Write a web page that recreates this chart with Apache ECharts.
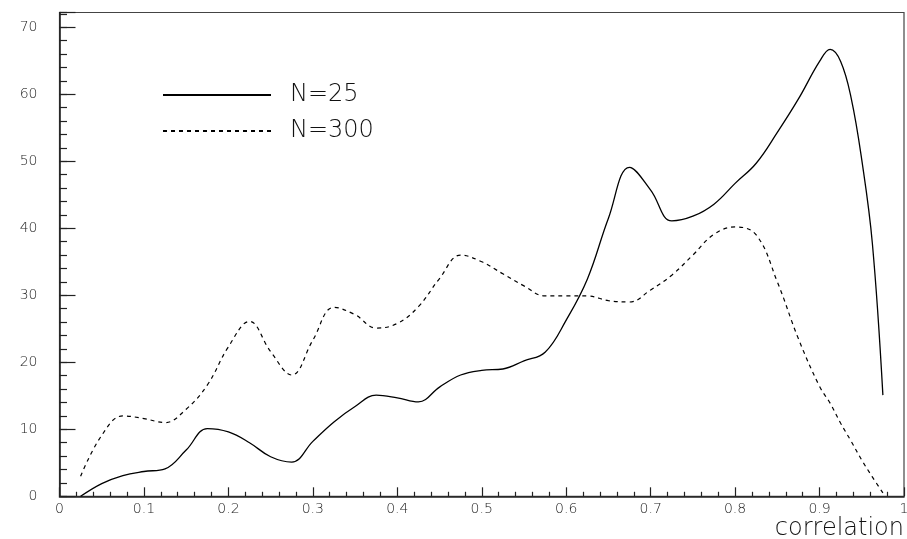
<!DOCTYPE html>
<html>
<head>
<meta charset="utf-8">
<script src="https://cdn.jsdelivr.net/npm/echarts@6/dist/echarts.min.js"></script>
<style>
html,body{margin:0;padding:0;background:#fff;}
#chart{width:907px;height:539px;}
</style>
</head>
<body>
<div id="chart"></div>
<script>
var correlation = [0.025, 0.05, 0.075, 0.10, 0.125, 0.15, 0.175, 0.20, 0.225, 0.25,
                   0.275, 0.30, 0.325, 0.35, 0.375, 0.40, 0.425, 0.45, 0.475, 0.50,
                   0.525, 0.55, 0.575, 0.60, 0.625, 0.65, 0.675, 0.70, 0.725, 0.75,
                   0.775, 0.80, 0.825, 0.85, 0.875, 0.90, 0.9125, 0.925, 0.9375, 0.95,
                   0.9625, 0.975];
// N=25 curve values
var n25 = [0.0, 1.9, 3.1, 3.7, 4.1, 6.9, 10.1, 9.6, 8.0, 5.9,
           5.1, 8.2, 11.1, 13.4, 15.1, 14.7, 14.1, 16.3, 18.1, 18.8,
           19.0, 20.2, 21.5, 26.3, 32.4, 41.5, 49.1, 45.7, 41.1, 41.8,
           43.6, 46.7, 49.7, 54.3, 59.3, 64.9, 66.7, 64.9, 59.4, 50.2,
           37.8, 15.1];
// N=300 curve values
var n300 = [3.0, 9.1, 12.0, 11.6, 11.0, 13.0, 16.6, 22.3, 26.1, 21.6,
            18.1, 23.3, 28.2, 27.1, 25.1, 25.8, 28.3, 32.5, 36.0, 35.0,
            33.2, 31.4, 29.9, 29.9, 29.9, 29.2, 29.0, 30.8, 33.0, 36.0,
            39.1, 40.2, 39.0, 32.0, 23.5, 16.4, 13.9, 10.9, 8.2, 5.4,
            2.9, 0.5];
var seriesNames = ['N=25', 'N=300'];
var xAxisTitle = 'correlation';

function pairs(xs, ys) { return xs.map(function (x, i) { return [x, ys[i]]; }); }

var FONT = 'DejaVu Sans';
var chart = echarts.init(document.getElementById('chart'), null, {renderer: 'canvas'});
chart.setOption({
  animation: false,
  backgroundColor: '#ffffff',
  title: {
    text: xAxisTitle, right: 3, top: 517, padding: 0,
    textStyle: {fontFamily: FONT, fontSize: 24, fontWeight: 200, color: '#111'}
  },
  grid: {
    left: 59.5, right: 3, top: 12.5, bottom: 42.7,
    containLabel: false, outerBoundsMode: 'none',
    show: true, borderColor: '#444', borderWidth: 1.2, backgroundColor: 'transparent'
  },
  legend: {
    orient: 'vertical',
    left: 162, top: 83, padding: 0,
    itemWidth: 108, itemHeight: 14, itemGap: 12,
    itemStyle: {opacity: 0},
    textStyle: {fontFamily: FONT, fontSize: 24, fontWeight: 200, color: '#111', padding: [0, 0, 0, 14]},
    data: seriesNames
  },
  xAxis: {
    type: 'value', min: 0, max: 1, interval: 0.1,
    axisLine: {show: true, lineStyle: {color: '#222', width: 1.6}},
    axisTick: {show: true, inside: true, length: 9, lineStyle: {color: '#222', width: 1.2}},
    minorTick: {show: true, splitNumber: 5, length: 4.5, lineStyle: {color: '#222', width: 1.2}},
    axisLabel: {fontFamily: FONT, fontSize: 14, fontWeight: 200, color: '#222', margin: 6,
      formatter: function (v) { return String(+v.toFixed(1)); }},
    splitLine: {show: false}
  },
  yAxis: [{
    type: 'value', min: 0, max: 72.2, interval: 2,
    axisLine: {show: true, lineStyle: {color: '#222', width: 1.6}},
    axisTick: {show: true, inside: true, length: 7.5, lineStyle: {color: '#222', width: 1.2}},
    axisLabel: {fontFamily: FONT, fontSize: 14, fontWeight: 200, color: '#222', margin: 22,
      formatter: function (v) { return (Math.abs(v % 10) < 1e-9) ? String(v) : ''; }},
    splitLine: {show: false}
  }, {
    type: 'value', min: 0, max: 72.2, interval: 10, position: 'left', offset: 0,
    axisLine: {show: false},
    axisTick: {show: true, inside: true, length: 16, lineStyle: {color: '#222', width: 1.2}},
    axisLabel: {show: false},
    splitLine: {show: false}
  }],
  series: [{
    name: seriesNames[0], type: 'line', yAxisIndex: 0,
    data: pairs(correlation, n25),
    smooth: 0.4, symbol: 'none',
    lineStyle: {color: '#000', width: 1.3, type: 'solid'},
    itemStyle: {color: 'transparent'}
  }, {
    name: seriesNames[1], type: 'line', yAxisIndex: 0,
    data: pairs(correlation, n300),
    smooth: 0.4, symbol: 'none',
    lineStyle: {color: '#000', width: 1.2, type: [4, 4]},
    itemStyle: {color: 'transparent'}
  }]
});
</script>
</body>
</html>
